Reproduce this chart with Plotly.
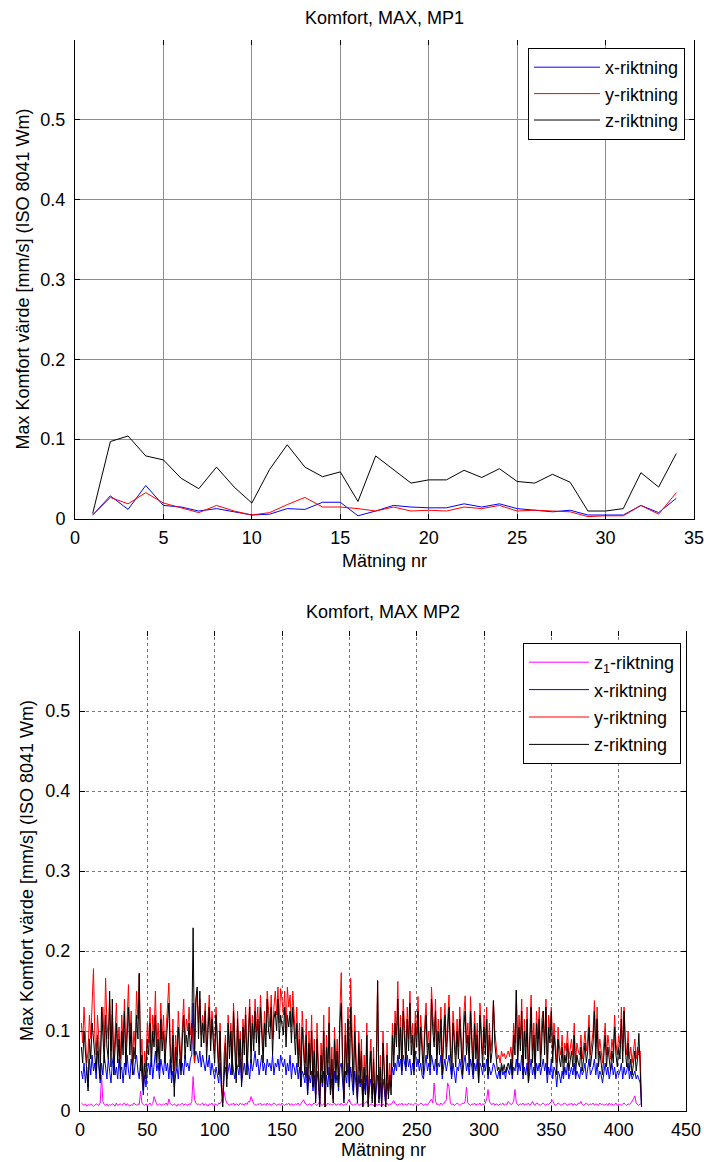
import plotly.graph_objects as go

# ---------------- MP1 data ----------------
mp1_n = list(range(1, 35))
mp1_x = [.005,.029,.012,.042,.017,.015,.010,.013,.009,.005,.006,.013,.012,.021,.021,.004,.010,
         .017,.015,.014,.014,.019,.015,.019,.013,.011,.009,.011,.005,.005,.005,.017,.008,.026]
mp1_y = [.005,.027,.019,.033,.020,.014,.008,.017,.010,.005,.008,.018,.027,.015,.015,.013,.010,
         .015,.010,.011,.010,.015,.013,.017,.010,.011,.010,.009,.003,.004,.004,.017,.006,.033]
mp1_z = [.007,.097,.104,.079,.074,.051,.038,.065,.040,.020,.062,.093,.065,.053,.059,.022,.079,
         .062,.045,.049,.049,.061,.052,.063,.047,.045,.056,.046,.010,.010,.013,.058,.040,.082]

# ---------------- MP2 data ----------------
mp2_z1 = [
 .010,.008,.007,.009,.006,.008,.007,.009,.008,.006, .007,.009,.008,.007,.010,.045,.012,.008,.007,.009,
 .006,.008,.007,.009,.008,.006,.010,.007,.008,.009, .007,.008,.010,.007,.009,.008,.006,.008,.007,.010,
 .008,.007,.009,.008,.025,.010,.008,.007,.009,.006, .008,.010,.007,.009,.018,.012,.008,.007,.009,.008,
 .007,.009,.008,.010,.007,.015,.009,.008,.007,.009, .008,.006,.009,.007,.008,.010,.007,.009,.008,.007,
 .009,.008,.012,.043,.015,.010,.008,.009,.007,.008, .010,.007,.009,.008,.006,.009,.008,.010,.007,.009,
 .008,.007,.010,.009,.012,.018,.024,.015,.010,.008, .007,.009,.008,.010,.007,.009,.008,.007,.010,.008,
 .009,.007,.010,.008,.012,.011,.018,.012,.009,.008, .007,.009,.008,.010,.007,.008,.009,.007,.010,.008,
 .009,.007,.008,.010,.009,.007,.008,.009,.007,.010, .008,.007,.009,.008,.010,.007,.009,.008,.007,.009,
 .008,.010,.007,.009,.012,.014,.010,.008,.007,.009, .008,.007,.009,.010,.008,.007,.009,.012,.008,.007,
 .009,.008,.007,.010,.008,.009,.007,.008,.010,.007, .008,.009,.007,.010,.008,.007,.009,.008,.012,.015,
 .009,.008,.007,.009,.008,.010,.007,.008,.009,.007, .008,.010,.012,.008,.007,.009,.008,.007,.006,.008,
 .007,.009,.008,.006,.009,.007,.008,.010,.007,.009, .008,.010,.013,.009,.008,.007,.009,.008,.010,.007,
 .009,.008,.007,.010,.008,.009,.007,.008,.010,.009, .007,.008,.010,.009,.007,.008,.009,.007,.010,.012,
 .015,.010,.035,.012,.008,.009,.007,.010,.008,.009, .012,.014,.035,.030,.010,.008,.009,.007,.008,.010,
 .009,.007,.008,.010,.009,.012,.030,.010,.008,.007, .009,.008,.010,.007,.009,.008,.010,.007,.009,.008,
 .010,.015,.027,.012,.009,.008,.010,.007,.009,.008, .007,.009,.008,.010,.007,.009,.008,.012,.010,.008,
 .009,.012,.027,.010,.008,.007,.009,.008,.010,.007, .009,.008,.010,.007,.009,.012,.008,.007,.010,.009,
 .008,.007,.009,.010,.008,.007,.009,.008,.010,.012, .013,.009,.007,.008,.010,.009,.007,.008,.009,.010,
 .008,.007,.009,.008,.010,.007,.009,.008,.007,.010, .009,.012,.008,.007,.009,.010,.008,.007,.009,.008,
 .010,.007,.009,.008,.007,.010,.008,.009,.007,.008, .009,.007,.010,.008,.009,.007,.008,.010,.007,.009,
 .008,.007,.009,.010,.008,.007,.009,.008,.010,.012, .015,.019,.010,.008,.007,.009,.008]

mp2_x = [
 .050,.040,.060,.035,.055,.030,.065,.045,.070,.050, .060,.040,.075,.050,.035,.060,.045,.070,.055,.040,
 .065,.050,.035,.060,.070,.045,.055,.040,.065,.050, .055,.035,.060,.045,.070,.050,.040,.065,.055,.045,
 .060,.070,.050,.040,.065,.035,.020,.045,.030,.050, .060,.045,.070,.040,.055,.075,.050,.060,.040,.065,
 .055,.045,.070,.050,.060,.040,.065,.035,.050,.030, .045,.055,.040,.065,.050,.060,.045,.070,.055,.060,
 .050,.065,.070,.135,.060,.075,.070,.060,.075,.055, .070,.060,.050,.065,.055,.070,.045,.060,.050,.040,
 .055,.045,.035,.060,.030,.020,.045,.055,.040,.050, .060,.045,.065,.050,.040,.060,.055,.045,.065,.035,
 .050,.060,.045,.070,.055,.040,.065,.050,.060,.075, .055,.065,.045,.060,.070,.050,.060,.045,.065,.055,
 .060,.050,.070,.045,.060,.055,.065,.050,.070,.060, .055,.065,.045,.060,.050,.070,.040,.060,.055,.045,
 .060,.040,.055,.030,.050,.045,.035,.055,.020,.045, .035,.050,.025,.045,.015,.050,.035,.010,.045,.030,
 .050,.010,.045,.030,.055,.020,.040,.015,.050,.035, .045,.025,.055,.060,.040,.015,.050,.035,.060,.030,
 .055,.040,.020,.050,.035,.015,.045,.030,.040,.010, .035,.020,.045,.010,.030,.040,.015,.035,.008,.030,
 .045,.015,.035,.010,.040,.025,.008,.035,.020,.040, .030,.055,.045,.060,.050,.070,.055,.065,.045,.070,
 .060,.050,.070,.055,.065,.045,.060,.050,.075,.055, .065,.050,.060,.045,.040,.055,.070,.050,.060,.045,
 .070,.060,.050,.065,.045,.060,.055,.070,.040,.055, .065,.050,.060,.070,.055,.040,.060,.050,.035,.055,
 .050,.065,.055,.040,.060,.070,.050,.060,.045,.065, .055,.040,.060,.050,.065,.035,.060,.055,.045,.060,
 .050,.065,.040,.055,.045,.050,.060,.055,.045,.040, .050,.040,.055,.045,.050,.040,.055,.050,.045,.060,
 .040,.055,.050,.065,.045,.060,.050,.070,.040,.055, .045,.060,.035,.050,.065,.045,.055,.040,.060,.050,
 .060,.045,.055,.065,.050,.060,.035,.055,.045,.065, .040,.055,.050,.030,.050,.045,.035,.050,.040,.055,
 .045,.060,.040,.050,.055,.045,.060,.040,.050,.045, .040,.055,.045,.050,.060,.040,.055,.065,.045,.050,
 .055,.065,.045,.060,.040,.050,.045,.035,.050,.060, .045,.055,.040,.050,.060,.045,.055,.040,.050,.045,
 .050,.060,.040,.055,.045,.050,.060,.040,.050,.040, .045,.050,.040,.045,.040,.035,.005]

mp2_y = [
 .110,.085,.130,.095,.060,.075,.120,.090,.140,.178, .095,.070,.120,.085,.060,.100,.130,.080,.166,.110,
 .090,.140,.075,.120,.060,.095,.135,.080,.105,.065, .120,.085,.140,.070,.110,.158,.090,.125,.060,.100,
 .080,.150,.115,.172,.060,.090,.030,.075,.055,.110, .085,.130,.070,.120,.095,.150,.080,.110,.065,.135,
 .090,.120,.075,.105,.140,.160,.085,.060,.115,.050, .095,.070,.125,.090,.060,.105,.140,.085,.115,.100,
 .130,.095,.110,.085,.060,.130,.150,.110,.140,.095, .120,.100,.135,.080,.115,.145,.090,.125,.100,.075,
 .130,.085,.060,.110,.040,.010,.070,.095,.040,.120, .080,.110,.060,.135,.090,.050,.125,.070,.100,.040,
 .115,.085,.130,.060,.100,.140,.075,.120,.090,.140, .100,.130,.085,.145,.110,.075,.125,.095,.150,.120,
 .105,.145,.090,.130,.150,.120,.155,.110,.153,.140, .120,.150,.100,.155,.130,.145,.105,.150,.125,.090,
 .130,.070,.110,.045,.125,.080,.060,.115,.030,.100, .060,.120,.045,.090,.020,.110,.065,.010,.085,.050,
 .120,.005,.095,.060,.130,.030,.080,.015,.105,.055, .090,.040,.125,.173,.070,.020,.110,.060,.130,.045,
 .166,.080,.035,.120,.060,.015,.100,.050,.090,.005, .070,.030,.110,.010,.060,.090,.020,.080,.005,.050,
 .163,.020,.070,.010,.100,.040,.005,.085,.025,.060, .030,.110,.070,.125,.095,.162,.080,.120,.065,.140,
 .100,.070,.130,.090,.150,.085,.110,.060,.125,.095, .143,.075,.120,.090,.060,.110,.135,.080,.100,.070,
 .155,.120,.095,.140,.070,.115,.085,.130,.060,.100, .135,.080,.110,.145,.090,.060,.125,.095,.070,.115,
 .080,.130,.100,.060,.120,.144,.085,.110,.070,.143, .095,.060,.125,.080,.110,.050,.135,.090,.070,.120,
 .085,.130,.060,.110,.075,.090,.138,.100,.080,.065, .070,.060,.075,.068,.072,.065,.070,.075,.068,.080,
 .060,.110,.085,.151,.070,.120,.090,.140,.060,.115, .080,.130,.050,.100,.145,.075,.110,.060,.125,.090,
 .130,.070,.115,.125,.085,.140,.060,.120,.100,.130, .075,.110,.090,.060,.105,.080,.070,.095,.060,.085,
 .075,.100,.065,.080,.090,.070,.110,.060,.085,.075, .070,.095,.065,.080,.100,.075,.090,.120,.070,.085,
 .100,.138,.080,.130,.070,.090,.075,.060,.085,.110, .070,.095,.080,.065,.090,.075,.120,.085,.070,.095,
 .080,.130,.075,.130,.090,.070,.100,.065,.080,.060, .075,.090,.065,.080,.070,.075,.005]

mp2_z = [
 .080,.060,.100,.070,.040,.025,.090,.065,.110,.085, .070,.050,.095,.060,.040,.130,.100,.060,.120,.080,
 .065,.150,.055,.140,.045,.080,.110,.060,.090,.040, .100,.070,.125,.055,.090,.130,.070,.110,.045,.080,
 .065,.120,.090,.172,.050,.070,.026,.060,.040,.090, .070,.110,.055,.100,.080,.120,.060,.090,.050,.115,
 .075,.100,.060,.090,.120,.135,.070,.045,.095,.018, .080,.055,.105,.070,.045,.090,.120,.065,.095,.080,
 .110,.075,.095,.229,.070,.140,.155,.090,.150,.080, .110,.085,.125,.065,.100,.130,.075,.115,.085,.060,
 .120,.070,.045,.100,.030,.005,.060,.085,.030,.110, .065,.100,.045,.125,.075,.035,.115,.055,.090,.030,
 .105,.070,.120,.045,.085,.130,.060,.110,.075,.125, .085,.115,.070,.130,.095,.060,.110,.080,.140,.100,
 .090,.130,.070,.115,.125,.100,.140,.090,.120,.110, .095,.130,.080,.120,.105,.125,.085,.130,.100,.070,
 .110,.055,.090,.030,.105,.065,.045,.095,.020,.085, .045,.100,.030,.075,.010,.090,.050,.005,.070,.035,
 .100,.005,.080,.045,.110,.020,.065,.010,.090,.040, .075,.030,.110,.135,.055,.010,.095,.045,.115,.030,
 .130,.065,.025,.100,.045,.010,.085,.035,.075,.005, .055,.020,.095,.005,.045,.075,.010,.065,.005,.040,
 .163,.010,.055,.005,.085,.030,.005,.070,.015,.045, .020,.095,.055,.110,.080,.140,.065,.105,.050,.125,
 .085,.055,.115,.075,.135,.070,.095,.045,.110,.080, .125,.060,.105,.075,.045,.095,.120,.065,.085,.055,
 .140,.100,.080,.125,.055,.100,.070,.115,.045,.085, .120,.065,.095,.130,.075,.045,.110,.080,.055,.100,
 .065,.115,.085,.045,.105,.125,.070,.095,.055,.125, .080,.045,.110,.065,.095,.035,.120,.075,.055,.105,
 .070,.115,.045,.095,.060,.075,.138,.085,.065,.050, .055,.045,.060,.050,.058,.048,.055,.060,.052,.065,
 .045,.095,.070,.151,.055,.105,.075,.125,.045,.100, .065,.115,.035,.085,.130,.060,.095,.045,.110,.075,
 .115,.055,.100,.125,.070,.130,.045,.105,.085,.125, .060,.095,.075,.045,.090,.065,.055,.080,.045,.070,
 .060,.085,.050,.065,.075,.055,.095,.045,.070,.060, .055,.080,.050,.065,.085,.060,.075,.105,.055,.070,
 .085,.125,.065,.115,.055,.075,.060,.045,.070,.095, .055,.080,.065,.050,.075,.060,.105,.070,.055,.080,
 .065,.115,.060,.125,.075,.055,.085,.050,.065,.045, .060,.075,.050,.065,.097,.060,.005]
mp2_n = list(range(1, len(mp2_z) + 1))

# ---------------- labels ----------------
title1 = "Komfort, MAX, MP1"
title2 = "Komfort, MAX MP2"
xlabel = "Mätning nr"
ylabel = "Max Komfort värde [mm/s] (ISO 8041 Wm)"
names1 = ["x-riktning", "y-riktning", "z-riktning"]
names2 = ["z<sub>1</sub>-riktning", "x-riktning", "y-riktning", "z-riktning"]
yticks = [0, 0.1, 0.2, 0.3, 0.4, 0.5]
xticks1 = [0, 5, 10, 15, 20, 25, 30, 35]
xticks2 = [0, 50, 100, 150, 200, 250, 300, 350, 400, 450]

W, H = 704, 1162
FONT = "Arial, 'Liberation Sans', sans-serif"
FS = 18

fig = go.Figure()

blue, red, black, mag = "#0000ff", "#ff0000", "#000000", "#ff00ff"

for nm, ys, c in zip(names1, [mp1_x, mp1_y, mp1_z], [blue, red, black]):
    fig.add_trace(go.Scatter(x=mp1_n, y=ys, mode="lines", name=nm, line=dict(color=c, width=1),
                             xaxis="x", yaxis="y", legend="legend", legendgroup="a" + nm))
for nm, ys, c in zip(names2, [mp2_z1, mp2_x, mp2_y, mp2_z], [mag, blue, red, black]):
    fig.add_trace(go.Scatter(x=mp2_n, y=ys, mode="lines", name=nm, line=dict(color=c, width=1),
                             xaxis="x2", yaxis="y2", legend="legend2", legendgroup="b" + nm))
# empty traces to attach top tick-only axes
fig.add_trace(go.Scatter(x=[], y=[], xaxis="x3", yaxis="y", showlegend=False))
fig.add_trace(go.Scatter(x=[], y=[], xaxis="x4", yaxis="y2", showlegend=False))

d1x = [75 / W, 694 / W]
d1y = [1 - 519 / H, 1 - 40 / H]
d2x = [80 / W, 686 / W]
d2y = [1 - 1111 / H, 1 - 631 / H]

def xax(dom, anchor, ticks, rng, gridstyle):
    return dict(domain=dom, anchor=anchor, range=rng, tickvals=ticks, ticks="inside", ticklen=5,
                tickcolor="black", showline=True, linecolor="black", linewidth=1, showgrid=True,
                gridcolor=gridstyle[0], griddash=gridstyle[1], gridwidth=1, zeroline=False,
                ticklabelstandoff=2, automargin=False, ticklabeloverflow="allow",
                tickfont=dict(size=FS, color="black", family=FONT))

def yax(dom, anchor, gridstyle):
    return dict(domain=dom, anchor=anchor, range=[0, 0.6], tickvals=yticks, ticks="inside", ticklen=5,
                tickcolor="black", showline=True, linecolor="black", linewidth=1, mirror="ticks",
                showgrid=True, gridcolor=gridstyle[0], griddash=gridstyle[1], gridwidth=1,
                zeroline=False, ticklabelstandoff=5, automargin=False,
                tickfont=dict(size=FS, color="black", family=FONT))

g1 = ("#8c8c8c", "solid")
g2 = ("#777777", "dot")

def topax(dom, anchor, over, ticks, rng):
    return dict(domain=dom, anchor=anchor, overlaying=over, side="top", range=rng, tickvals=ticks,
                ticks="inside", ticklen=5, tickcolor="black", showticklabels=False, showline=False,
                showgrid=False, zeroline=False, automargin=False)

fig.update_layout(
    width=W, height=H, margin=dict(l=0, r=0, t=0, b=0, autoexpand=False),
    paper_bgcolor="white", plot_bgcolor="white",
    font=dict(family=FONT, size=FS, color="black"),
    xaxis=xax(d1x, "y", xticks1, [0, 35], g1),
    yaxis=yax(d1y, "x", g1),
    xaxis2=xax(d2x, "y2", xticks2, [0, 450], g2),
    yaxis2=yax(d2y, "x2", g2),
    xaxis3=topax(d1x, "y", "x", xticks1, [0, 35]),
    xaxis4=topax(d2x, "y2", "x2", xticks2, [0, 450]),
    legend=dict(x=685 / W, y=1 - 48 / H, xanchor="right", yanchor="top", bgcolor="white",
                bordercolor="black", borderwidth=1, font=dict(size=FS, family=FONT),
                tracegroupgap=0, itemwidth=66),
    legend2=dict(x=681 / W, y=1 - 643 / H, xanchor="right", yanchor="top", bgcolor="white",
                 bordercolor="black", borderwidth=1, font=dict(size=FS, family=FONT),
                 tracegroupgap=1, itemwidth=60),
    showlegend=True,
)

ann = [
    dict(text=title1, x=(d1x[0] + d1x[1]) / 2, y=1 - 18 / H),
    dict(text=title2, x=(d2x[0] + d2x[1]) / 2, y=1 - 612 / H),
    dict(text=xlabel, x=(d1x[0] + d1x[1]) / 2, y=1 - 561 / H),
    dict(text=xlabel, x=(d2x[0] + d2x[1]) / 2, y=1 - 1150 / H),
    dict(text=ylabel, x=22 / W, y=(d1y[0] + d1y[1]) / 2, textangle=-90),
    dict(text=ylabel, x=27 / W, y=(d2y[0] + d2y[1]) / 2, textangle=-90),
]
for a in ann:
    fig.add_annotation(xref="paper", yref="paper", showarrow=False, xanchor="center", yanchor="middle",
                       font=dict(size=FS, family=FONT, color="black"), **a)

fig.write_html("out.html", config={"displayModeBar": False},
               post_script="document.body.style.margin='0';document.body.style.overflow='hidden';")
